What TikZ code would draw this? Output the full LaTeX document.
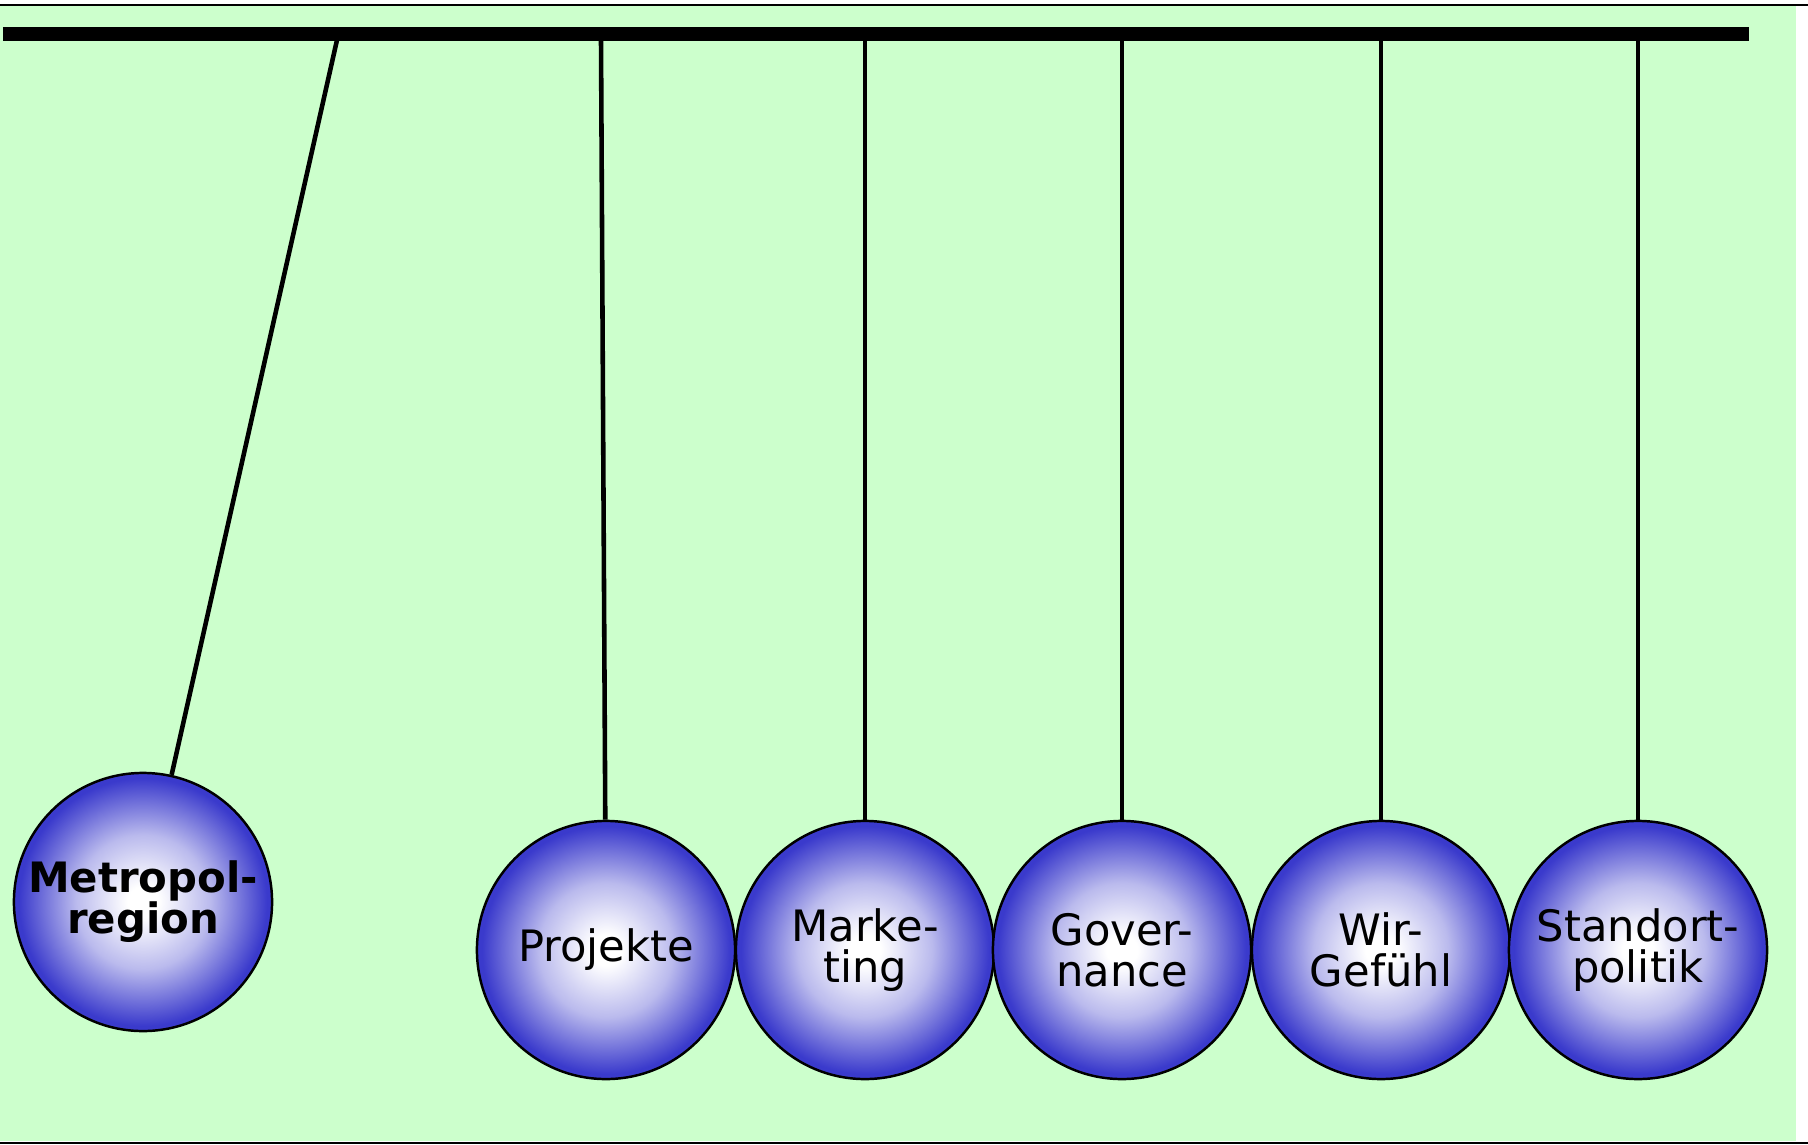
\documentclass[tikz,border=0pt]{standalone}
\usepackage{fontspec}
\setmainfont{DejaVu Sans}
\definecolor{fondo}{RGB}{204,255,204}
\definecolor{kugelblau}{RGB}{58,58,204}
\pgfdeclareradialshading{kugelglanz}{\pgfpoint{0bp}{0bp}}{color(0bp)=(white); color(3bp)=(white); color(13bp)=(kugelblau!35!white); color(24bp)=(kugelblau); color(25bp)=(kugelblau); color(50bp)=(kugelblau)}
\begin{document}
\begin{tikzpicture}[x=0.01cm,y=-0.01cm,
		kugel/.style={circle,draw,line width=0.7pt,shading=kugelglanz,minimum size=2.58cm,inner sep=0pt,align=center,font=\fontsize{12.3}{11.6}\selectfont},
		faden/.style={line width=1.3pt}]
		\useasboundingbox (0,0) rectangle (1808,1145);
		\fill[fondo] (0,6) rectangle (1796,1141); %fondo verde
		\draw[line width=0.6pt] (0,5) -- (1808,5); %linea arriba
		\draw[line width=0.6pt] (0,1143) -- (1808,1143); %linea abajo
		\draw[line width=3.8pt] (3,34) -- (1749,34); %barra
		\coordinate (a1) at (337,40); %puntos de la barra
		\coordinate (a2) at (601,40);
		\coordinate (a3) at (865,40);
		\coordinate (a4) at (1122,40);
		\coordinate (a5) at (1381,40);
		\coordinate (a6) at (1638,40);
		\node[kugel,font=\bfseries\fontsize{11.9}{11.6}\selectfont] (metro) at (143,902) {Metropol-\\region}; %bola suelta
		\node[kugel] (proj) at (606,950) {Projekte}; %bolas
		\node[kugel] (mark) at (865,950) {Marke-\\ting};
		\node[kugel] (gov) at (1122,950) {Gover-\\nance};
		\node[kugel] (wir) at (1381,950) {Wir-\\Gefühl};
		\node[kugel] (stand) at (1638,950) {Standort-\\politik};
		\draw[faden] (a1) -- (metro); %hilos
		\draw[faden] (a2) -- (proj);
		\draw[faden] (a3) -- (mark);
		\draw[faden] (a4) -- (gov);
		\draw[faden] (a5) -- (wir);
		\draw[faden] (a6) -- (stand);
\end{tikzpicture}
\end{document}
